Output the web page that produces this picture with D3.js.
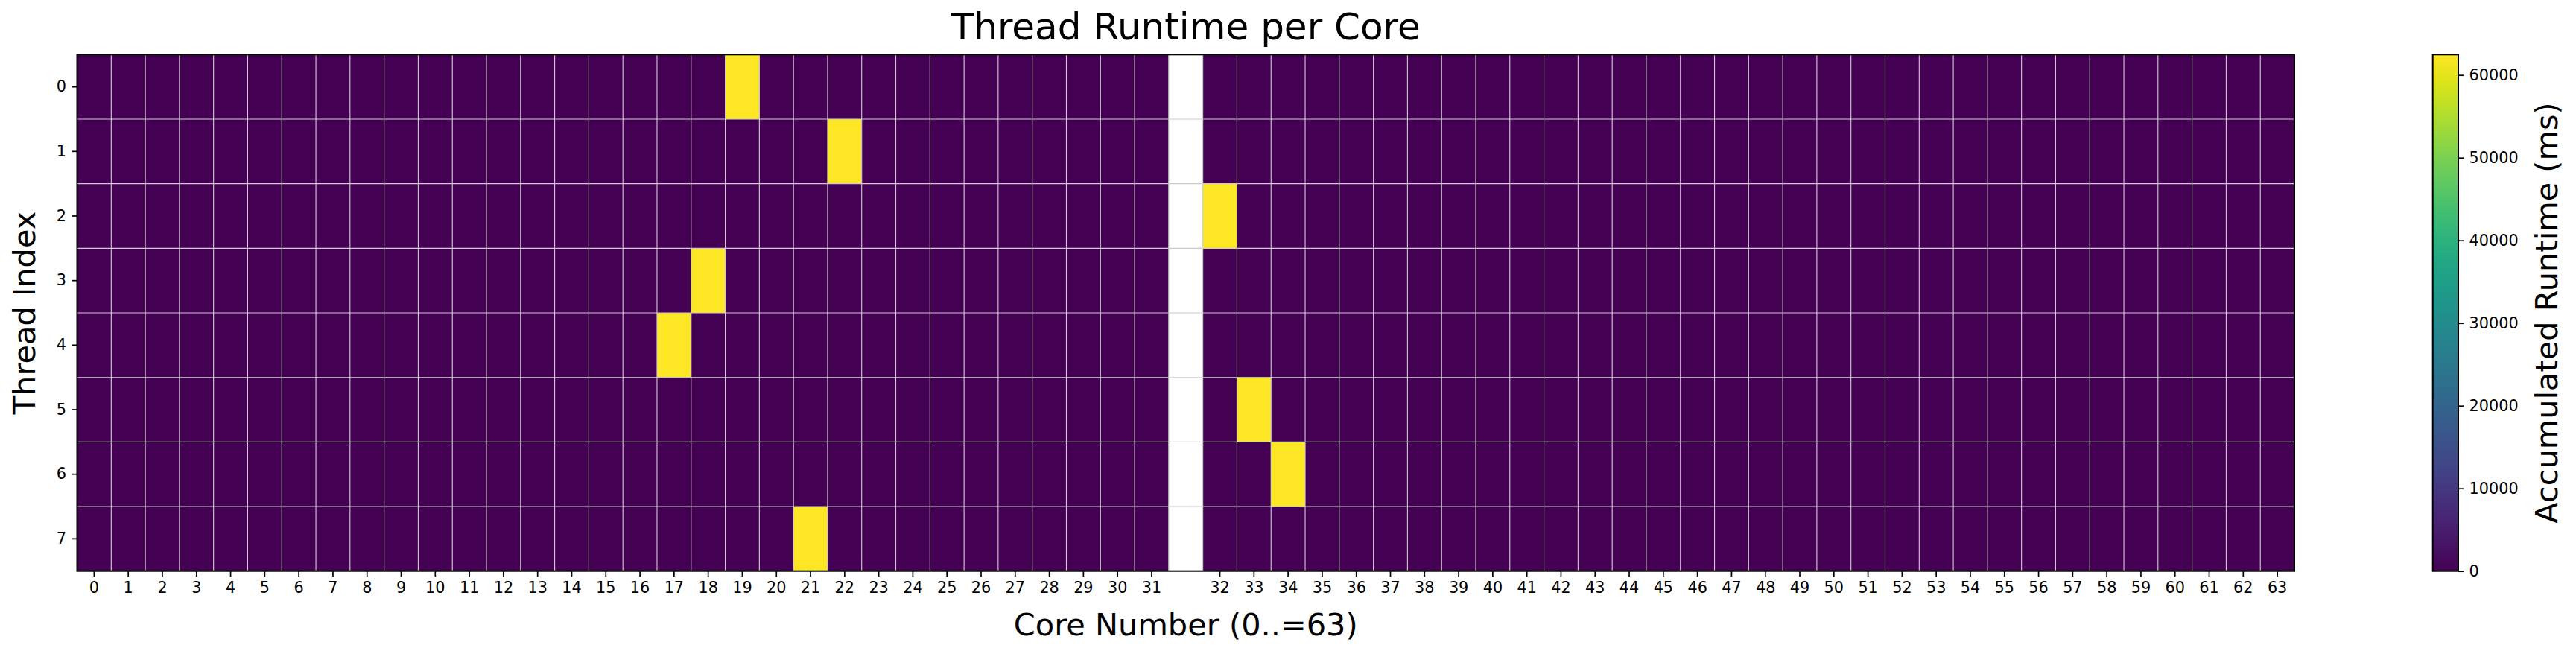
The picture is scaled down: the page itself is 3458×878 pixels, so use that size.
<!DOCTYPE html>
<html>
<head>
<meta charset="utf-8">
<script src="https://cdn.jsdelivr.net/npm/d3@7"></script>
<style>
  html, body { margin: 0; padding: 0; background: #fff; }
  svg text { font-family: "DejaVu Sans", sans-serif; fill: #000; }
</style>
</head>
<body>
<svg id="chart" width="3458" height="878"></svg>
<script>
// ---- data ----
const threadIndex = [0, 1, 2, 3, 4, 5, 6, 7];
// column keys along the x axis; "gap" is the empty (NaN) column between 31 and 32
const coreColumns = [
  "0","1","2","3","4","5","6","7","8","9","10","11","12","13","14","15",
  "16","17","18","19","20","21","22","23","24","25","26","27","28","29","30","31",
  "gap",
  "32","33","34","35","36","37","38","39","40","41","42","43","44","45","46","47",
  "48","49","50","51","52","53","54","55","56","57","58","59","60","61","62","63"
];
// core each thread ran on, and its accumulated runtime (ms); all other cells 0
const threadCore    = ["19", "22", "32", "18", "17", "33", "34", "21"];
const threadRuntime = [62470, 62470, 62470, 62470, 62470, 62470, 62470, 62470];
const colorbarTicks = [0, 10000, 20000, 30000, 40000, 50000, 60000];

// ---- layout ----
const W = 3458, H = 878;
const plot = { left: 103.5, right: 3080, top: 73.3, bottom: 766.7 };
const cbar = { left: 3265.7, right: 3300 };
const tickFont = 20.75;

const svg = d3.select("#chart");

const x = d3.scaleBand().domain(coreColumns).range([plot.left, plot.right]).padding(0);
const y = d3.scaleBand().domain(threadIndex).range([plot.top, plot.bottom]).padding(0);
const vmax = d3.max(threadRuntime);
const color = d3.scaleSequential(d3.interpolateViridis).domain([0, vmax]);

// cells
const cells = [];
threadIndex.forEach((t, i) => {
  coreColumns.forEach(c => {
    const v = c === "gap" ? null : (c === threadCore[i] ? threadRuntime[i] : 0);
    cells.push({ t, c, v });
  });
});

svg.append("g").selectAll("rect").data(cells).join("rect")
  .attr("x", d => x(d.c))
  .attr("y", d => y(d.t))
  .attr("width", x.bandwidth())
  .attr("height", y.bandwidth())
  .attr("fill", d => d.v === null ? "#ffffff" : color(d.v));

// grid lines at cell boundaries
const grid = svg.append("g").attr("stroke", "#cccccc").attr("stroke-width", 1.1);
coreColumns.slice(1).forEach(c => {
  grid.append("line").attr("x1", x(c)).attr("x2", x(c))
    .attr("y1", plot.top).attr("y2", plot.bottom);
});
threadIndex.slice(1).forEach(t => {
  grid.append("line").attr("x1", plot.left).attr("x2", plot.right)
    .attr("y1", y(t)).attr("y2", y(t));
});

// frame
svg.append("rect")
  .attr("x", plot.left).attr("y", plot.top)
  .attr("width", plot.right - plot.left).attr("height", plot.bottom - plot.top)
  .attr("fill", "none").attr("stroke", "#000").attr("stroke-width", 2);

// axes
function styleAxis(g) {
  g.select(".domain").remove();
  g.selectAll(".tick line").attr("stroke", "#000").attr("stroke-width", 1.7);
  g.selectAll(".tick text").style("font-size", tickFont + "px").style("font-family", "DejaVu Sans");
}

const xAxis = d3.axisBottom(x)
  .tickValues(coreColumns.filter(c => c !== "gap"))
  .tickSize(7.3).tickPadding(7.3);
svg.append("g").attr("transform", `translate(0,${plot.bottom})`).call(xAxis).call(styleAxis);

const yAxis = d3.axisLeft(y).tickSize(7.3).tickPadding(7.3);
svg.append("g").attr("transform", `translate(${plot.left},0)`).call(yAxis).call(styleAxis);

// title and labels
const cx = (plot.left + plot.right) / 2;
svg.append("text").attr("x", cx).attr("y", 53).attr("text-anchor", "middle")
  .style("font-size", "50px").text("Thread Runtime per Core");
svg.append("text").attr("x", cx).attr("y", 853).attr("text-anchor", "middle")
  .style("font-size", "41.5px").text("Core Number (0..=63)");
svg.append("text")
  .attr("transform", `translate(46.5,${(plot.top + plot.bottom) / 2}) rotate(-90)`)
  .attr("text-anchor", "middle").style("font-size", "41.5px").text("Thread Index");

// colorbar
const cy = d3.scaleLinear().domain([0, vmax]).range([plot.bottom, plot.top]);
const defs = svg.append("defs");
const grad = defs.append("linearGradient").attr("id", "cbgrad")
  .attr("x1", "0").attr("y1", "1").attr("x2", "0").attr("y2", "0");
d3.range(0, 1.0001, 0.05).forEach(s => {
  grad.append("stop").attr("offset", s).attr("stop-color", d3.interpolateViridis(s));
});
svg.append("rect")
  .attr("x", cbar.left).attr("y", plot.top)
  .attr("width", cbar.right - cbar.left).attr("height", plot.bottom - plot.top)
  .attr("fill", "url(#cbgrad)");
svg.append("rect")
  .attr("x", cbar.left).attr("y", plot.top)
  .attr("width", cbar.right - cbar.left).attr("height", plot.bottom - plot.top)
  .attr("fill", "none").attr("stroke", "#000").attr("stroke-width", 2);
const cAxis = d3.axisRight(cy).tickValues(colorbarTicks).tickFormat(d3.format("d"))
  .tickSize(7.3).tickPadding(7.3);
svg.append("g").attr("transform", `translate(${cbar.right},0)`).call(cAxis).call(styleAxis);
svg.append("text")
  .attr("transform", `translate(3433,${(plot.top + plot.bottom) / 2}) rotate(-90)`)
  .attr("text-anchor", "middle").style("font-size", "41.5px").text("Accumulated Runtime (ms)");
</script>
</body>
</html>
